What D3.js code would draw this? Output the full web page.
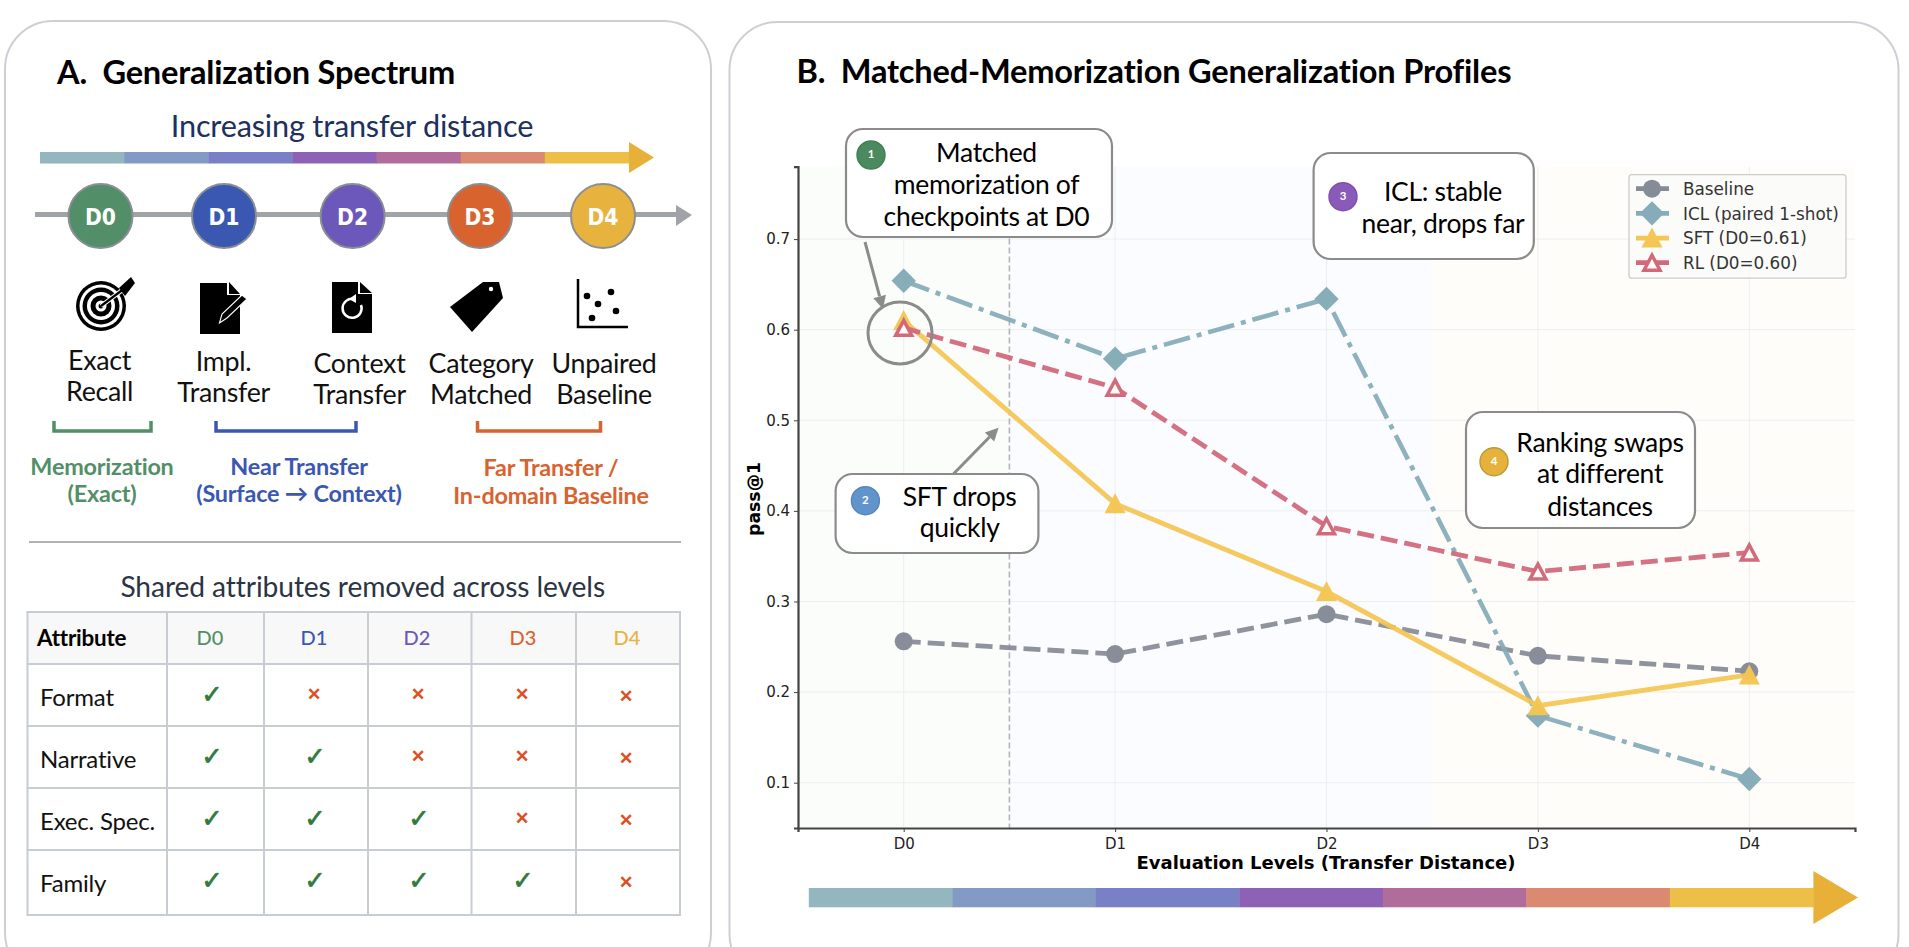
<!DOCTYPE html>
<html><head><meta charset="utf-8">
<script src="https://cdn.jsdelivr.net/npm/d3@7/dist/d3.min.js"></script>
<style>
html,body{margin:0;padding:0;background:#fff;overflow:hidden}
svg{display:block}
text{font-family:Lato,sans-serif;white-space:pre}
.mpl{font-family:"DejaVu Sans",sans-serif}
</style></head><body>
<svg id="c" width="1909" height="947"></svg>
<script>
// ---------- data ----------
const levels = ["D0","D1","D2","D3","D4"];
const levelColors = ["#528f68","#3a58b2","#6c58bb","#d8632f","#e8b23e"];
const gradientColors = ["#94b6bf","#839ac4","#7a80c6","#8d62b6","#b06d9c","#db8a72","#eebf47"];
const baselineValues = [0.256,0.242,0.286,0.240,0.223];
const iclValues = [0.654,0.568,0.634,0.174,0.104];
const sftValues = [0.610,0.408,0.311,0.185,0.219];
const rlValues = [0.602,0.536,0.383,0.333,0.354];
const yTicks = [0.1,0.2,0.3,0.4,0.5,0.6,0.7];
const seriesNames = ["Baseline","ICL (paired 1-shot)","SFT (D0=0.61)","RL (D0=0.60)"];
const attributes = ["Format","Narrative","Exec. Spec.","Family"];
const attributeKept = [1,2,3,4]; // number of levels (from D0) that keep each attribute
const spectrumLabels = [["Exact","Recall"],["Impl.","Transfer"],["Context","Transfer"],["Category","Matched"],["Unpaired","Baseline"]];

const svg = d3.select("#c");
const GRAY = "#8b8b8b";

// ---------- panels ----------
svg.append("rect").attr("x",5).attr("y",21).attr("width",706).attr("height",960).attr("rx",48)
  .attr("fill","#fff").attr("stroke","#ccd0d6").attr("stroke-width",2);
svg.append("rect").attr("x",729.5).attr("y",22).attr("width",1169).attr("height",960).attr("rx",48)
  .attr("fill","#fff").attr("stroke","#ccd0d6").attr("stroke-width",2);

function txt(g,s,x,y,size,opt={}){
  const t=g.append("text").attr("x",x).attr("y",y).attr("font-size",size).text(s)
    .attr("fill",opt.fill||"#000").attr("text-anchor",opt.anchor||"middle");
  if(opt.weight) t.attr("font-weight",opt.weight);
  if(opt.cls) t.attr("class",opt.cls);
  if(opt.ls!=null) t.attr("letter-spacing",opt.ls);
  return t;
}

// ---------- panel A ----------
const A = svg.append("g");
txt(A,"A.  Generalization Spectrum",57,84,32.6,{anchor:"start",weight:700,ls:-0.2});
txt(A,"Increasing transfer distance",352,137,30.7,{fill:"#20305e",ls:-0.2});

function gradientArrow(g,x0,x1,yTop,yBot,headX,headTop,headBot){
  const sx=d3.scaleBand().domain(d3.range(gradientColors.length)).range([x0,x1]);
  g.selectAll(null).data(gradientColors).join("rect")
    .attr("x",(d,i)=>sx(i)).attr("y",yTop).attr("width",sx.bandwidth()+0.4).attr("height",yBot-yTop).attr("fill",d=>d);
  g.append("path").attr("d",`M${x1},${headTop}L${headX},${(headTop+headBot)/2}L${x1},${headBot}Z`).attr("fill","#e8b038");
}
gradientArrow(A,40,629,152,163.5,654,142,173);

A.append("line").attr("x1",35).attr("x2",678).attr("y1",214.5).attr("y2",214.5).attr("stroke","#a0a4a8").attr("stroke-width",5);
A.append("path").attr("d","M676,205L692,215L676,226Z").attr("fill","#a0a4a8");
const spectrumX=d3.scaleOrdinal().domain(levels).range([100.5,224,352.6,480,603]);
const nodes=A.selectAll(null).data(levels).join("g").attr("transform",d=>`translate(${spectrumX(d)},216)`);
nodes.append("circle").attr("r",32).attr("fill",(d,i)=>levelColors[i]).attr("stroke","#8a8f94").attr("stroke-width",2);
nodes.append("text").attr("class","mpl").attr("text-anchor","middle").attr("y",8.5).attr("font-size",23.5)
  .attr("font-weight",700).attr("fill","#fff").attr("textLength",31).attr("lengthAdjust","spacingAndGlyphs").text(d=>d);

// icons
const ic=A.append("g");
[[25,"#000"],[21.5,"#fff"],[18.5,"#000"],[14,"#fff"],[10.5,"#000"],[5.5,"#fff"]].forEach(([r,f])=>
  ic.append("circle").attr("cx",101).attr("cy",306).attr("r",r).attr("fill",f));
ic.append("circle").attr("cx",101).attr("cy",306).attr("r",2.5).attr("fill","#000");
ic.append("line").attr("x1",101).attr("y1",306).attr("x2",125).attr("y2",288).attr("stroke","#fff").attr("stroke-width",4.5);
ic.append("line").attr("x1",101).attr("y1",306).attr("x2",125).attr("y2",288).attr("stroke","#000").attr("stroke-width",2.2);
ic.append("path").attr("d","M119,288L131,277L135,283L125,296Z").attr("fill","#000");
ic.append("path").attr("d","M200,283H227V295H240V334H200Z").attr("fill","#000");
ic.append("path").attr("d","M229,282L240,294H229Z").attr("fill","#000");
ic.append("path").attr("d","M219.5,323L222,314L242,295L247,299L227,318Z").attr("fill","#000").attr("stroke","#fff").attr("stroke-width",1.1);
ic.append("path").attr("d","M332,282H358V294H372V333H332Z").attr("fill","#000");
ic.append("path").attr("d","M360,282L372,293H360Z").attr("fill","#000");
ic.append("path").attr("d","M354,299A9.5,9.5 0 1 0 361,305").attr("fill","none").attr("stroke","#fff").attr("stroke-width",2.5);
ic.append("path").attr("d","M349,299L356,294L356,303Z").attr("fill","#fff");
ic.append("path").attr("d","M450,307L483,282H499L503,298L472,332Z").attr("fill","#000");
ic.append("circle").attr("cx",491).attr("cy",289).attr("r",2.2).attr("fill","#fff");
ic.append("path").attr("d","M578,279V327H628").attr("fill","none").attr("stroke","#000").attr("stroke-width",2.5);
[[587,296],[611,292],[598,304],[616,311],[592,318]].forEach(([x,y])=>
  ic.append("circle").attr("cx",x).attr("cy",y).attr("r",3.3).attr("fill","#000"));

// spectrum labels
const labelPos=[[99.6,370],[223.6,371],[359.5,373],[481,373],[604,373]];
spectrumLabels.forEach((ls,i)=>ls.forEach((s,j)=>
  txt(A,s,labelPos[i][0],labelPos[i][1]+j*31,26.8,{fill:"#111",ls:-0.3})));

// brackets + group labels
[[54,151,levelColors[0]],[216,356,levelColors[1]],[477.5,600.5,levelColors[3]]].forEach(([a,b,c])=>
  A.append("path").attr("d",`M${a},421V431H${b}V421`).attr("fill","none").attr("stroke",c).attr("stroke-width",3.5));
[[102,475,"Memorization",levelColors[0]],[102,502,"(Exact)",levelColors[0]],
 [299,475,"Near Transfer",levelColors[1]],[299,502,"(Surface → Context)",levelColors[1]],
 [551,476,"Far Transfer /",levelColors[3]],[551,504,"In-domain Baseline",levelColors[3]]]
 .forEach(([x,y,s,c])=>txt(A,s,x,y,23.4,{fill:c,weight:700,ls:-0.2}));

A.append("line").attr("x1",29).attr("x2",681).attr("y1",542).attr("y2",542).attr("stroke","#b0b3b6").attr("stroke-width",2);
txt(A,"Shared attributes removed across levels",362.7,597,28.2,{fill:"#2b3444",ls:-0.1});

// table
const colX=[27.5,167,264,368,471.5,576,680], rowY=[612,664,726,788,850,915];
A.append("rect").attr("x",colX[0]).attr("y",rowY[0]).attr("width",colX[6]-colX[0]).attr("height",rowY[1]-rowY[0]).attr("fill","#f8f8f8");
colX.forEach(x=>A.append("line").attr("x1",x).attr("x2",x).attr("y1",rowY[0]).attr("y2",rowY[5]).attr("stroke","#c8cdd4").attr("stroke-width",2));
rowY.forEach(y=>A.append("line").attr("x1",colX[0]-1).attr("x2",colX[6]+1).attr("y1",y).attr("y2",y).attr("stroke","#c8cdd4").attr("stroke-width",2));
txt(A,"Attribute",37,646,22.4,{anchor:"start",weight:700,ls:-0.2});
const headX=[210,314,417,523,627];
levels.forEach((l,i)=>txt(A,l,headX[i],645,20,{fill:levelColors[i],weight:500}));
const checkX=[212,315,419,523,627];
attributes.forEach((a,r)=>{
  txt(A,a,40,706+r*62,24,{anchor:"start",fill:"#111",ls:-0.2});
  levels.forEach((l,c)=>{
    const kept=c<attributeKept[r], y=694+r*62;
    if(kept) txt(A,"✓",checkX[c],y+9,25,{fill:"#2f7a3d",cls:"mpl"}).attr("stroke","#2f7a3d").attr("stroke-width",0.8);
    else txt(A,"✕",checkX[c]-1,y+(c===4?8:6),17,{fill:"#dc4c20",cls:"mpl"}).attr("stroke","#dc4c20").attr("stroke-width",0.7);
  });
});

// ---------- panel B ----------
const B = svg.append("g");
txt(B,"B.  Matched-Memorization Generalization Profiles",796.5,83,32.6,{anchor:"start",weight:700,ls:-0.2});

const x=d3.scaleLinear().domain([-0.5,4.5]).range([798,1855]);
const y=d3.scaleLinear().domain([0.05,0.78]).range([828,166.6]);
const [L,R]=x.range(), [Bt,T]=y.range();

[[-0.5,0.5,"#fbfdfa"],[0.5,2.5,"#fbfcff"],[2.5,4.5,"#fffdfa"]].forEach(([a,b,c])=>
  B.append("rect").attr("x",x(a)).attr("y",T).attr("width",x(b)-x(a)).attr("height",Bt-T).attr("fill",c));
// grid
B.selectAll(null).data(yTicks).join("line").attr("x1",L).attr("x2",R).attr("y1",d=>y(d)).attr("y2",d=>y(d)).attr("stroke","#eceef0").attr("stroke-width",1);
B.selectAll(null).data(d3.range(5)).join("line").attr("y1",T).attr("y2",Bt).attr("x1",d=>x(d)).attr("x2",d=>x(d)).attr("stroke","#eceef0").attr("stroke-width",1);
B.append("line").attr("x1",x(0.5)).attr("x2",x(0.5)).attr("y1",T).attr("y2",Bt).attr("stroke","#b4b4b8").attr("stroke-width",1.6).attr("stroke-dasharray","6,3");

// axes
const axL=B.append("g").attr("transform",`translate(${L},0)`).call(d3.axisLeft(y).tickValues(yTicks).tickFormat(d3.format(".1f")).tickSize(4).tickPadding(4));
const axB=B.append("g").attr("transform",`translate(0,${Bt})`).call(d3.axisBottom(x).tickValues(d3.range(5)).tickFormat(i=>levels[i]).tickSize(4).tickPadding(6));
[axL,axB].forEach(a=>{
  a.select(".domain").attr("stroke","#444").attr("stroke-width",2.2);
  a.selectAll(".tick line").attr("stroke","#444");
  a.selectAll(".tick text").attr("class","mpl").attr("font-size",15).attr("fill","#222").style("font-family",'"DejaVu Sans",sans-serif');
});
txt(B,"Evaluation Levels (Transfer Distance)",1326,869,18,{cls:"mpl",weight:700});
B.append("text").attr("class","mpl").attr("transform","translate(760,499) rotate(-90)").attr("text-anchor","middle").attr("font-size",17.3).attr("font-weight",700).text("pass@1");

// series
const lineGen=d3.line().x((d,i)=>x(i)).y(d=>y(d));
const mk={
  circle:g=>g.append("circle").attr("r",9),
  diamond:g=>g.append("path").attr("d","M0,-12.2L12.2,0L0,12.2L-12.2,0Z"),
  tri:g=>g.append("path").attr("d","M0,-10.5L10.5,9.5L-10.5,9.5Z"),
  triOpen:g=>g.append("path").attr("d","M0,-7.5L8,7.5L-8,7.5Z")
};
const series=[
 {vals:baselineValues,color:"#868b98",dash:"17,7",w:4.8,m:"circle"},
 {vals:iclValues,color:"#85acb8",dash:"27,7,5,7",w:4.6,m:"diamond"},
 {vals:sftValues,color:"#f4c654",dash:null,w:4.8,m:"tri"},
 {vals:rlValues,color:"#d2687a",dash:"17,7",w:4.8,m:"triOpen",open:true}
];
function mark(g,s){
  const p=mk[s.m](g);
  if(s.open) p.attr("fill","#fffdf9").attr("stroke",s.color).attr("stroke-width",3.5);
  else p.attr("fill",s.color);
}
series.forEach(s=>{
  const g=B.append("g").attr("opacity",0.98);
  g.append("path").attr("d",lineGen(s.vals)).attr("fill","none").attr("stroke",s.color).attr("stroke-width",s.w).attr("stroke-dasharray",s.dash).attr("opacity",0.95);
  s.vals.forEach((v,i)=>mark(g.append("g").attr("transform",`translate(${x(i)},${y(v)})`),s));
});

// legend
const leg=B.append("g");
leg.append("rect").attr("x",1629).attr("y",174.7).attr("width",217).attr("height",103.5).attr("rx",3).attr("fill","#fbfbf8").attr("fill-opacity",0.9).attr("stroke","#ccc").attr("stroke-width",1.3);
const legY=d3.scalePoint().domain(seriesNames).range([188.7,262.7]);
series.forEach((s,i)=>{
  const n=seriesNames[i], yy=legY(n);
  leg.append("line").attr("x1",1636).attr("x2",1669).attr("y1",yy).attr("y2",yy).attr("stroke",s.color).attr("stroke-width",s.w);
  mark(leg.append("g").attr("transform",`translate(1652,${yy})`),s);
  txt(leg,n,1683,yy+6.2,16.8,{anchor:"start",cls:"mpl",fill:"#333"});
});

// callouts
function arrow(x1,y1,x2,y2){
  const a=Math.atan2(y2-y1,x2-x1),h=13,w=6.5;
  const bx=x2-h*Math.cos(a),by=y2-h*Math.sin(a);
  B.append("line").attr("x1",x1).attr("y1",y1).attr("x2",bx).attr("y2",by).attr("stroke",GRAY).attr("stroke-width",3);
  B.append("path").attr("d",`M${x2},${y2}L${bx-w*Math.sin(a)},${by+w*Math.cos(a)}L${bx+w*Math.sin(a)},${by-w*Math.cos(a)}Z`).attr("fill",GRAY);
}
B.append("ellipse").attr("cx",900).attr("cy",333).attr("rx",32).attr("ry",31).attr("fill","none").attr("stroke",GRAY).attr("stroke-width",3);
arrow(865,242,883,309);
arrow(953.4,474,998.6,427.7);

const callouts=[
 {box:[846,129,266,108],badge:[871,155],c:"#4a8a5e",sc:"#3f7f50",n:"1",cx:986.5,lines:["Matched","memorization of","checkpoints at D0"],base:[162,193.5,225.5]},
 {box:[835.6,474,202.8,79],badge:[865.4,500.7],c:"#6294cc",sc:"#5585bd",n:"2",cx:959.6,lines:["SFT drops","quickly"],base:[506,537]},
 {box:[1313.6,153,220.2,106],badge:[1343,196.7],c:"#8a5ab8",sc:"#7d4fab",n:"3",cx:1443,lines:["ICL: stable","near, drops far"],base:[200.7,233]},
 {box:[1466,412,229,116],badge:[1494,461.7],c:"#e6b23c",sc:"#b99a3c",n:"4",cx:1600,lines:["Ranking swaps","at different","distances"],base:[452,483,515.6]}
];
callouts.forEach(o=>{
  const g=B.append("g");
  g.append("rect").attr("x",o.box[0]).attr("y",o.box[1]).attr("width",o.box[2]).attr("height",o.box[3]).attr("rx",17)
    .attr("fill","#fff").attr("stroke",GRAY).attr("stroke-width",2.2);
  g.append("circle").attr("cx",o.badge[0]).attr("cy",o.badge[1]).attr("r",14).attr("fill",o.c).attr("stroke",o.sc).attr("stroke-width",1.4);
  txt(g,o.n,o.badge[0],o.badge[1]+3,11.5,{fill:"#fff",weight:700});
  o.lines.forEach((s,i)=>txt(g,s,o.cx,o.base[i],26.5,{ls:-0.3}));
});

gradientArrow(B,808.8,1813.4,888,907.3,1858,871,924);
</script>
</body></html>
